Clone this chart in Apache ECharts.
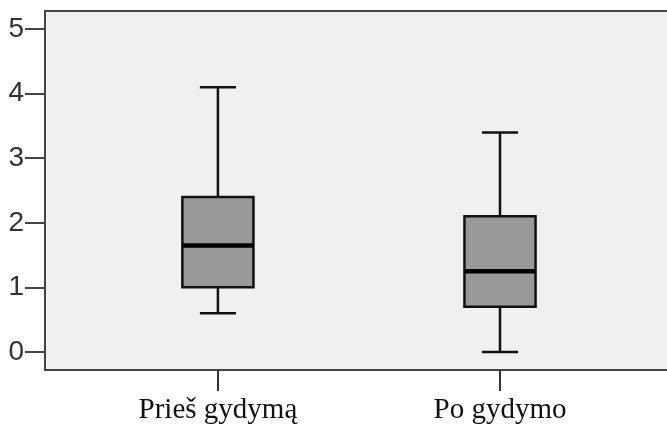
<!DOCTYPE html>
<html>
<head>
<meta charset="utf-8">
<script src="https://cdn.jsdelivr.net/npm/echarts@6/dist/echarts.min.js"></script>
<style>
html,body{margin:0;padding:0;background:#fff;overflow:hidden;}
#c{width:667px;height:429px;}
</style>
</head>
<body>
<div id="c"></div>
<script>
const categories = ['Prieš gydymą', 'Po gydymo'];
const whiskerMin = [0.6, 0.0];
const q1 = [1.0, 0.7];
const median = [1.65, 1.25];
const q3 = [2.4, 2.1];
const whiskerMax = [4.1, 3.4];
const yTicks = [0, 1, 2, 3, 4, 5];

const xPos = categories.map((c, i) => i);
const data = categories.map((c, i) => [i, whiskerMin[i], q1[i], median[i], q3[i], whiskerMax[i]]);

const chart = echarts.init(document.getElementById('c'), null, {renderer: 'canvas'});
const ink = '#111';
const frame = {color: '#444', width: 2};
chart.setOption({
  animation: false,
  backgroundColor: '#ffffff',
  grid: {left: 45, top: 11, right: 0, bottom: 59, outerBoundsMode: 'none', containLabel: false,
    show: true, backgroundColor: '#f0f0f0', borderWidth: 0},
  xAxis: [{
    type: 'value', min: -0.613, max: 1.592, position: 'bottom',
    axisLine: {show: true, onZero: false, lineStyle: frame},
    splitLine: {show: false},
    axisTick: {show: true, customValues: xPos, length: 21, lineStyle: {color: '#333', width: 2}},
    axisLabel: {customValues: xPos, margin: 26, color: '#111', fontFamily: 'Liberation Serif', fontSize: 29,
      formatter: v => categories[Math.round(v)]}
  }, {
    type: 'value', min: -0.613, max: 1.592, position: 'top',
    axisLine: {show: true, onZero: false, lineStyle: frame},
    splitLine: {show: false}, axisTick: {show: false}, axisLabel: {show: false}
  }],
  yAxis: {
    type: 'value', min: -0.28, max: 5.28,
    axisLine: {show: true, onZero: false, lineStyle: frame},
    splitLine: {show: false},
    axisTick: {show: true, customValues: yTicks, length: 20, lineStyle: {color: '#444', width: 2}},
    axisLabel: {customValues: yTicks, margin: 21, color: '#333', fontFamily: 'Liberation Sans', fontSize: 28}
  },
  series: [{
    type: 'custom',
    data: data,
    encode: {x: 0, y: [1, 2, 3, 4, 5]},
    renderItem: function (params, api) {
      const idx = api.value(0);
      const pMin = api.coord([idx, api.value(1)]);
      const pQ1 = api.coord([idx, api.value(2)]);
      const pMed = api.coord([idx, api.value(3)]);
      const pQ3 = api.coord([idx, api.value(4)]);
      const pMax = api.coord([idx, api.value(5)]);
      const unit = api.size([1, 0])[0];
      const bw = unit * 0.252;
      const cw = unit * 0.128;
      const cx = pMed[0];
      const ls = {stroke: ink, lineWidth: 2.5};
      return {
        type: 'group',
        children: [
          {type: 'line', shape: {x1: cx, y1: pMax[1], x2: cx, y2: pQ3[1]}, style: ls},
          {type: 'line', shape: {x1: cx, y1: pQ1[1], x2: cx, y2: pMin[1]}, style: ls},
          {type: 'line', shape: {x1: cx - cw / 2, y1: pMax[1], x2: cx + cw / 2, y2: pMax[1]}, style: ls},
          {type: 'line', shape: {x1: cx - cw / 2, y1: pMin[1], x2: cx + cw / 2, y2: pMin[1]}, style: ls},
          {type: 'rect', shape: {x: cx - bw / 2, y: pQ3[1], width: bw, height: pQ1[1] - pQ3[1]},
            style: {fill: '#999999', stroke: ink, lineWidth: 2.5}},
          {type: 'line', shape: {x1: cx - bw / 2, y1: pMed[1], x2: cx + bw / 2, y2: pMed[1]}, style: {stroke: '#000', lineWidth: 4.5}}
        ]
      };
    }
  }]
});
</script>
</body>
</html>
